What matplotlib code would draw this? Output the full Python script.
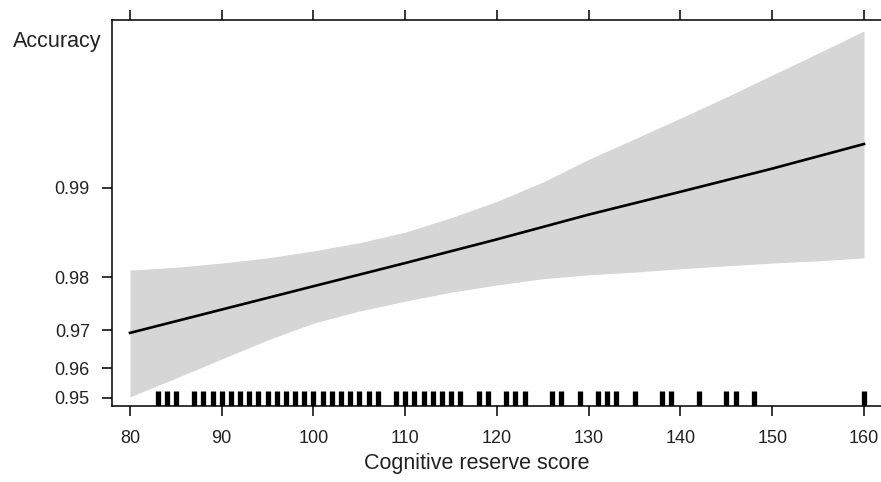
import numpy as np
import matplotlib.pyplot as plt

# effect of cognitive reserve on accuracy
score = [80, 85, 90, 95, 100, 105, 110, 115, 120, 125, 130, 135, 140, 145, 150, 155, 160]
fit_x = [80, 90, 100, 110, 120, 130, 140, 150, 160]
fit = [0.9694, 0.9744, 0.9786, 0.9821, 0.9851, 0.9877, 0.9897, 0.9914, 0.9929]
upper = [0.9811, 0.9815, 0.9821, 0.9828, 0.9837, 0.9847, 0.9859, 0.9874, 0.9889,
         0.99045, 0.9920, 0.99318, 0.9942, 0.99508, 0.99586, 0.99651, 0.99707]
lower = [0.9504, 0.9569, 0.9627, 0.9677, 0.9716, 0.9741, 0.9760, 0.9776, 0.9788,
         0.9798, 0.9804, 0.9808, 0.9813, 0.9817, 0.9821, 0.9824, 0.9828]

# observed scores for the rug
rug = [83, 84, 85] + list(range(87, 108)) + list(range(109, 117)) + \
      [118, 119, 121, 122, 123, 126, 127, 129, 131, 132, 133, 135, 138, 139,
       142, 145, 146, 148, 160]

xticks = [80, 90, 100, 110, 120, 130, 140, 150, 160]
yticks = [0.95, 0.96, 0.97, 0.98, 0.99]
ylabels = ['0.95', '0.96', '0.97', '0.98', '0.99']

plt.rcParams['font.family'] = ['Liberation Sans', 'DejaVu Sans']

fig = plt.figure(figsize=(8.81, 4.82), dpi=100)
ax = fig.add_axes([112 / 881, 76 / 482, 772 / 881, 386 / 482])

ax.fill_between(score, lower, upper, color='#d6d6d6', lw=0)
ax.plot(fit_x, fit, color='black', lw=1.9)
ax.vlines(rug, 0, 0.04, transform=ax.get_xaxis_transform(), color='black', lw=3.8)

ax.set_yscale('logit')
ax.set_xlim(78.04, 162.18)
ax.set_ylim(0.9469, 0.99731)
ax.set_xticks(xticks)
ax.set_yticks(yticks)
ax.set_yticklabels(ylabels)
ax.yaxis.set_minor_locator(plt.NullLocator())
ax.yaxis.set_minor_formatter(plt.NullFormatter())

for s in ax.spines.values():
    s.set_linewidth(1.1)
ax.spines['right'].set_visible(False)
ax.tick_params(axis='both', direction='out', length=7, width=1.1,
               labelsize=13, colors='black', labelcolor='#222222')
ax.tick_params(axis='x', top=True, pad=10)
ax.tick_params(axis='y', pad=9)

fig.text(477 / 881, 1 - 463 / 482, 'Cognitive reserve score', ha='center', va='center',
         fontsize=15.5, color='#222222')
fig.text(57 / 881, 1 - 42 / 482, 'Accuracy', ha='center', va='center',
         fontsize=15.5, color='#222222')

fig.savefig('out.png', dpi=100)
